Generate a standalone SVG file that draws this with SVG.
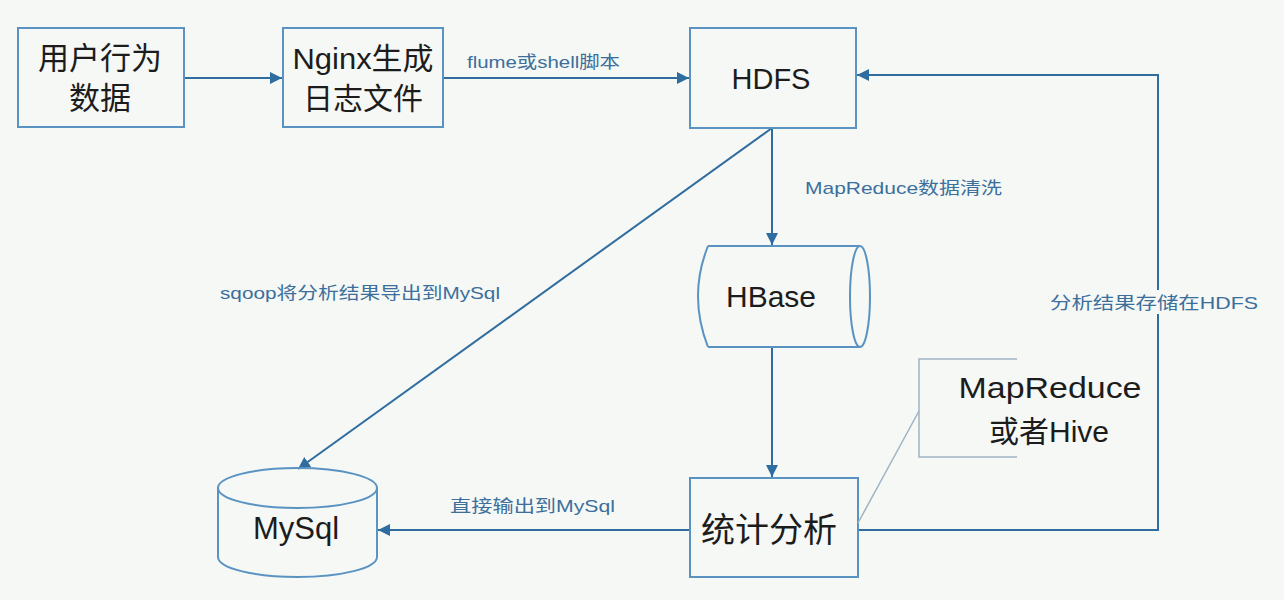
<svg xmlns="http://www.w3.org/2000/svg" width="1284" height="600" viewBox="0 0 1284 600">
<defs>
<style>
.box{fill:none;stroke:#5a93c2;stroke-width:2}
.nt{font-family:"Liberation Sans","Noto Sans CJK SC",sans-serif;fill:#1c1c1c;text-anchor:middle}
.lb{font-family:"Liberation Sans","Noto Sans CJK SC",sans-serif;font-size:17px;fill:#3c6f9c}
.ln{fill:none;stroke:#2f6c9f;stroke-width:2}
.an{fill:none;stroke:#9fb4c4;stroke-width:1.5}
</style>
<marker id="ah" viewBox="0 0 10 10" refX="10" refY="5" markerWidth="6" markerHeight="6" orient="auto" markerUnits="strokeWidth">
<path d="M0,0 L10,5 L0,10 z" fill="#2f6c9f"/>
</marker>
</defs>
<rect width="1284" height="600" fill="#f5f8f5"/>
<g id="connectors">
<line class="ln" x1="184" y1="78" x2="282" y2="78" marker-end="url(#ah)"/>
<line class="ln" x1="443" y1="78" x2="689" y2="78" marker-end="url(#ah)"/>
<line class="ln" x1="772" y1="128" x2="772" y2="245" marker-end="url(#ah)"/>
<line class="ln" x1="772" y1="347" x2="772" y2="477" marker-end="url(#ah)"/>
<line class="ln" x1="772" y1="128" x2="298" y2="469" marker-end="url(#ah)"/>
<line class="ln" x1="690" y1="530" x2="378" y2="530" marker-end="url(#ah)"/>
<polyline class="ln" points="858,530 1158,530 1158,75 857,75" marker-end="url(#ah)"/>
<rect x="1048" y="290" width="212" height="24" fill="#f5f8f5"/>
<text class="lb" x="467" y="68" textLength="153" lengthAdjust="spacingAndGlyphs">flume或shell脚本</text>
<text class="lb" x="805" y="194" textLength="197" lengthAdjust="spacingAndGlyphs">MapReduce数据清洗</text>
<text class="lb" x="220" y="299" textLength="280" lengthAdjust="spacingAndGlyphs">sqoop将分析结果导出到MySql</text>
<text class="lb" x="450" y="512" textLength="165" lengthAdjust="spacingAndGlyphs">直接输出到MySql</text>
<text class="lb" x="1050" y="309" textLength="208" lengthAdjust="spacingAndGlyphs">分析结果存储在HDFS</text>
</g>
<g id="user-data">
<rect class="box" x="18" y="28" width="166" height="99"/>
<text class="nt" x="100" y="69" font-size="31">用户行为</text>
<text class="nt" x="100" y="109" font-size="31">数据</text>
</g>
<g id="nginx">
<rect class="box" x="283" y="28" width="160" height="99"/>
<text class="nt" x="363" y="69" font-size="30" textLength="141" lengthAdjust="spacingAndGlyphs">Nginx生成</text>
<text class="nt" x="363" y="109" font-size="30">日志文件</text>
</g>
<g id="hdfs">
<rect class="box" x="690" y="28" width="166" height="100"/>
<text class="nt" x="771" y="89" font-size="29">HDFS</text>
</g>
<g id="hbase">
<path class="box" d="M708,246 L860,246 M708,347 L860,347 M708,246 Q688,296 708,347"/>
<ellipse class="box" cx="860" cy="296.5" rx="10" ry="50.5"/>
<text class="nt" x="771" y="307" font-size="30">HBase</text>
</g>
<g id="stats">
<rect class="box" x="690" y="478" width="168" height="99"/>
<text class="nt" x="769" y="542" font-size="34">统计分析</text>
</g>
<g id="mysql">
<path class="box" d="M218,488 L218,557 A79.5,20 0 0 0 377,557 L377,488"/>
<ellipse class="box" cx="297.5" cy="488" rx="79.5" ry="20"/>
<text class="nt" x="296" y="539" font-size="31">MySql</text>
</g>
<g id="annotation">
<polyline class="an" points="1017,359 919,359 919,457 1017,457"/>
<line class="an" x1="919" y1="411" x2="858" y2="523"/>
<text class="nt" x="1050" y="398" font-size="30" textLength="183" lengthAdjust="spacingAndGlyphs">MapReduce</text>
<text class="nt" x="1049" y="442" font-size="30">或者Hive</text>
</g>
</svg>
